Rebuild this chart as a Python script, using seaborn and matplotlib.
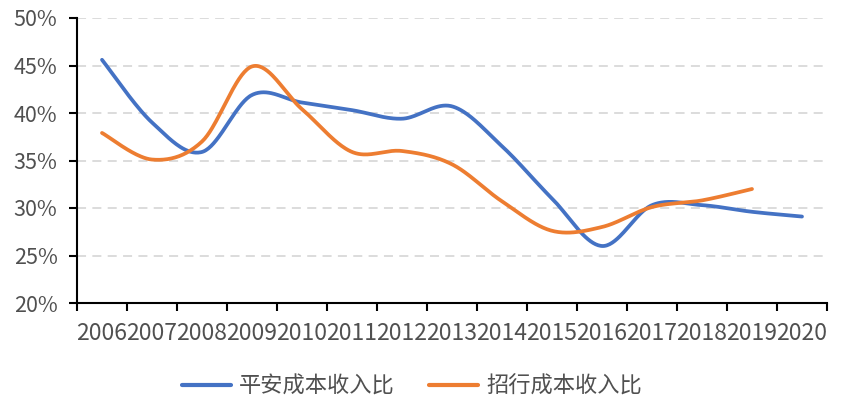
import numpy as np
import pandas as pd
import matplotlib
matplotlib.use("Agg")
import matplotlib.pyplot as plt
import seaborn as sns
from matplotlib.ticker import FixedLocator, FixedFormatter

years = ["2006", "2007", "2008", "2009", "2010", "2011", "2012", "2013",
         "2014", "2015", "2016", "2017", "2018", "2019", "2020"]
pingan = [45.6, 39.0, 35.9, 41.9, 41.1, 40.3, 39.4, 40.7, 36.5, 31.0, 26.0, 30.3, 30.3, 29.6, 29.1]
zhaohang = [37.9, 35.1, 37.0, 44.9, 40.4, 35.9, 36.0, 34.6, 30.7, 27.6, 28.0, 30.1, 30.8, 32.0]
series_names = ["平安成本收入比", "招行成本收入比"]
colors = ["#4472C4", "#ED7D31"]
yticks = [20, 25, 30, 35, 40, 45, 50]


def excel_smooth(xs, ys, n=40):
    xs = np.asarray(xs, float)
    ys = np.asarray(ys, float)
    px = np.concatenate([[xs[0]], xs, [xs[-1]]])
    py = np.concatenate([[ys[0]], ys, [ys[-1]]])
    outx, outy = [], []
    t = np.linspace(0, 1, n)
    for i in range(1, len(px) - 2):
        p0x, p1x, p2x, p3x = px[i - 1], px[i], px[i + 1], px[i + 2]
        p0y, p1y, p2y, p3y = py[i - 1], py[i], py[i + 1], py[i + 2]
        c1x, c1y = p1x + (p2x - p0x) / 6, p1y + (p2y - p0y) / 6
        c2x, c2y = p2x - (p3x - p1x) / 6, p2y - (p3y - p1y) / 6
        bx = (1 - t) ** 3 * p1x + 3 * (1 - t) ** 2 * t * c1x + 3 * (1 - t) * t ** 2 * c2x + t ** 3 * p2x
        by = (1 - t) ** 3 * p1y + 3 * (1 - t) ** 2 * t * c1y + 3 * (1 - t) * t ** 2 * c2y + t ** 3 * p2y
        outx.extend(bx if i == 1 else bx[1:])
        outy.extend(by if i == 1 else by[1:])
    return np.array(outx), np.array(outy)


frames = []
for name, vals in zip(series_names, [pingan, zhaohang]):
    sx, sy = excel_smooth(np.arange(len(vals)), vals)
    frames.append(pd.DataFrame({"x": sx, "y": sy, "series": name}))
df = pd.concat(frames, ignore_index=True)

sns.set_theme(style="white")
plt.rcParams["font.family"] = ["Noto Sans CJK SC", "DejaVu Sans"]

fig = plt.figure(figsize=(8.45, 4.13), dpi=100)
ax = fig.add_axes([77 / 845, 1 - 303 / 413, 750 / 845, 285 / 413])

sns.lineplot(data=df, x="x", y="y", hue="series", hue_order=series_names,
             palette=colors, sort=False, estimator=None, linewidth=2.7,
             ax=ax, legend=True)

ax.set_xlim(-0.5, len(years) - 0.5)
ax.set_ylim(20, 50)
ax.set_xlabel("")
ax.set_ylabel("")

for y in yticks[1:]:
    ax.axhline(y, color="#D9D9D9", lw=1.3, dashes=(5, 3.5), zorder=0)

ax.yaxis.set_major_locator(FixedLocator(yticks))
ax.yaxis.set_major_formatter(FixedFormatter([f"{v}%" for v in yticks]))
ax.xaxis.set_major_locator(FixedLocator(np.arange(-0.5, len(years), 1.0)))
ax.xaxis.set_major_formatter(FixedFormatter([""] * (len(years) + 1)))
ax.xaxis.set_minor_locator(FixedLocator(np.arange(len(years))))
ax.xaxis.set_minor_formatter(FixedFormatter(years))

ax.tick_params(axis="y", which="major", direction="out", length=6, width=1.5,
               color="black", left=True, labelsize=15.5, labelcolor="#505050", pad=8)
ax.tick_params(axis="x", which="major", direction="out", length=6, width=1.5,
               color="black", bottom=True)
ax.tick_params(axis="x", which="minor", length=0, labelsize=16.5,
               labelcolor="#505050", pad=14)

for side in ["top", "right"]:
    ax.spines[side].set_visible(False)
for side in ["left", "bottom"]:
    ax.spines[side].set_color("black")
    ax.spines[side].set_linewidth(1.5)

handles, labels = ax.get_legend_handles_labels()
ax.get_legend().remove()
for h in handles:
    h.set_linewidth(3)
fig.legend(handles, labels, loc="center", bbox_to_anchor=(412 / 845, 1 - 386 / 413),
           ncol=2, frameon=False, fontsize=16, handlelength=2.2,
           handletextpad=0.35, columnspacing=1.55, labelcolor="#505050")

fig.savefig("out.png", dpi=100)
